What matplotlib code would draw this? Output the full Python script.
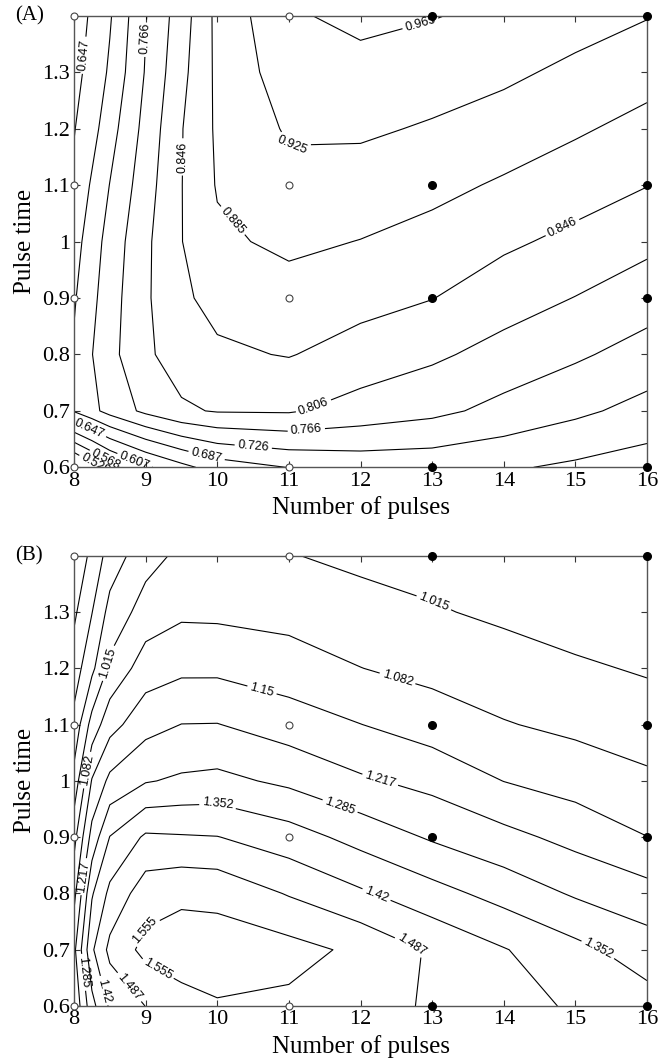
import matplotlib
matplotlib.use("Agg")
import matplotlib.pyplot as plt
from matplotlib.ticker import FormatStrFormatter
import numpy as np

# response surface
pulses = [8, 8.25, 8.5, 9, 9.5, 10, 11, 12, 13, 14, 15, 16]
pulse_time = [0.6, 0.7, 0.8, 0.9, 1.0, 1.1, 1.2, 1.3, 1.4]

# panel A, one row per pulse time (0.6 ... 1.4)
resp_a = [
    [0.470, 0.510, 0.550, 0.600, 0.635, 0.665, 0.688, 0.700, 0.700, 0.692, 0.680, 0.668],
    [0.690, 0.715, 0.740, 0.775, 0.800, 0.809, 0.810, 0.790, 0.776, 0.754, 0.734, 0.713],
    [0.692, 0.725, 0.754, 0.799, 0.825, 0.840, 0.848, 0.830, 0.813, 0.792, 0.772, 0.750],
    [0.683, 0.716, 0.749, 0.800, 0.840, 0.857, 0.870, 0.859, 0.847, 0.824, 0.805, 0.784],
    [0.672, 0.706, 0.742, 0.798, 0.845, 0.878, 0.893, 0.884, 0.871, 0.853, 0.836, 0.816],
    [0.655, 0.692, 0.727, 0.789, 0.845, 0.888, 0.913, 0.908, 0.896, 0.880, 0.864, 0.847],
    [0.645, 0.673, 0.710, 0.779, 0.844, 0.891, 0.930, 0.931, 0.921, 0.907, 0.890, 0.873],
    [0.635, 0.660, 0.693, 0.769, 0.835, 0.893, 0.947, 0.952, 0.943, 0.933, 0.916, 0.899],
    [0.630, 0.652, 0.683, 0.764, 0.827, 0.895, 0.960, 0.975, 0.967, 0.955, 0.942, 0.927],
]

# panel B
resp_b = [
    [1.160, 1.330, 1.430, 1.488, 1.530, 1.549, 1.540, 1.510, 1.480, 1.450, 1.410, 1.380],
    [1.200, 1.410, 1.505, 1.575, 1.590, 1.590, 1.579, 1.540, 1.478, 1.424, 1.371, 1.318],
    [1.130, 1.345, 1.437, 1.524, 1.541, 1.536, 1.482, 1.430, 1.377, 1.327, 1.277, 1.242],
    [1.060, 1.242, 1.354, 1.431, 1.426, 1.422, 1.383, 1.328, 1.277, 1.237, 1.196, 1.151],
    [0.970, 1.155, 1.234, 1.280, 1.296, 1.303, 1.271, 1.227, 1.196, 1.149, 1.122, 1.094],
    [0.900, 1.041, 1.125, 1.194, 1.218, 1.219, 1.185, 1.151, 1.119, 1.086, 1.067, 1.049],
    [0.845, 0.932, 1.030, 1.116, 1.136, 1.136, 1.113, 1.083, 1.061, 1.044, 1.025, 1.008],
    [0.800, 0.878, 0.970, 1.044, 1.070, 1.068, 1.060, 1.040, 1.021, 1.003, 0.984, 0.975],
    [0.760, 0.830, 0.910, 0.990, 1.030, 1.040, 1.018, 1.000, 0.990, 0.975, 0.965, 0.955],
]

levels_a = [0.528, 0.568, 0.607, 0.647, 0.687, 0.726, 0.766, 0.806, 0.846, 0.885, 0.925, 0.965]
levels_b = [1.015, 1.082, 1.15, 1.217, 1.285, 1.352, 1.42, 1.487, 1.555]
# the crowded ones along the left edge of B carry no readable label
extra_b = [0.8125, 0.88, 0.9475]

# experimental design points
design_pulses = [8, 11, 13, 16]
design_times = [0.6, 0.9, 1.1, 1.4]
open_pulses = [8, 11]

# where the contour labels sit
spots_a = [(8.15, 1.33), (9.02, 1.36), (9.5, 1.15), (10.15, 1.03), (11.05, 1.16),
           (12.85, 1.38), (14.8, 1.03), (11.4, 0.69), (11.25, 0.655), (10.5, 0.633),
           (9.85, 0.62), (8.2, 0.665), (8.85, 0.613), (8.45, 0.615), (8.3, 0.605)]
spots_b = [(8.45, 1.21), (13.0, 1.31), (8.15, 1.02), (12.5, 1.175), (10.6, 1.15),
           (8.13, 0.83), (12.27, 1.0), (8.14, 0.66), (11.7, 0.95), (10.0, 0.955),
           (15.35, 0.71), (8.5, 0.63), (12.23, 0.80), (8.74, 0.63), (12.69, 0.70),
           (8.9, 0.74), (9.1, 0.65)]

serif = 'Liberation Serif'


def draw_panel(ax, resp, levels, spots, tag, extra=None):
    X, Y = np.meshgrid(pulses, pulse_time)
    Z = np.array(resp)
    if extra:
        ax.contour(X, Y, Z, levels=extra, colors='black', linewidths=0.8)
    cs = ax.contour(X, Y, Z, levels=levels, colors='black', linewidths=0.8)
    with plt.rc_context({'font.family': 'Liberation Sans'}):
        ax.clabel(cs, fmt={lv: str(lv) for lv in levels},
                  manual=spots, inline=True, inline_spacing=3, fontsize=9)

    for p in design_pulses:
        for t in design_times:
            if p in open_pulses:
                ax.plot(p, t, 'o', ms=5, mfc='white', mec='#444444', mew=0.8, clip_on=False, zorder=5)
            else:
                ax.plot(p, t, 'o', ms=5.5, color='black', clip_on=False, zorder=5)

    ax.set_xlim(8, 16)
    ax.set_ylim(0.6, 1.4)
    ax.set_xticks(range(8, 17))
    ax.set_yticks([0.6, 0.7, 0.8, 0.9, 1.0, 1.1, 1.2, 1.3])
    ax.yaxis.set_major_formatter(FormatStrFormatter('%g'))
    ax.tick_params(direction='in', top=True, right=True, length=4, width=0.8,
                   labelsize=16, pad=3, colors='#333333', labelcolor='black')
    for lbl in ax.get_xticklabels() + ax.get_yticklabels():
        lbl.set_fontfamily(serif)
    for s in ax.spines.values():
        s.set_color('#555555')
        s.set_linewidth(1.0)
    ax.set_xlabel('Number of pulses', fontsize=18, family=serif, labelpad=4)
    ax.set_ylabel('Pulse time', fontsize=18, family=serif, labelpad=4)
    ax.text(-0.103, 1.0, tag, transform=ax.transAxes, fontsize=15, family=serif,
            ha='left', va='center')


fig = plt.figure(figsize=(6.59, 10.59), dpi=100)
ax_a = fig.add_axes([0.1123, 0.5587, 0.8695, 0.4264])
ax_b = fig.add_axes([0.1123, 0.0500, 0.8695, 0.4252])

draw_panel(ax_a, resp_a, levels_a, spots_a, '(A)')
draw_panel(ax_b, resp_b, levels_b, spots_b, '(B)', extra=extra_b)

fig.savefig('out.png', dpi=100)
